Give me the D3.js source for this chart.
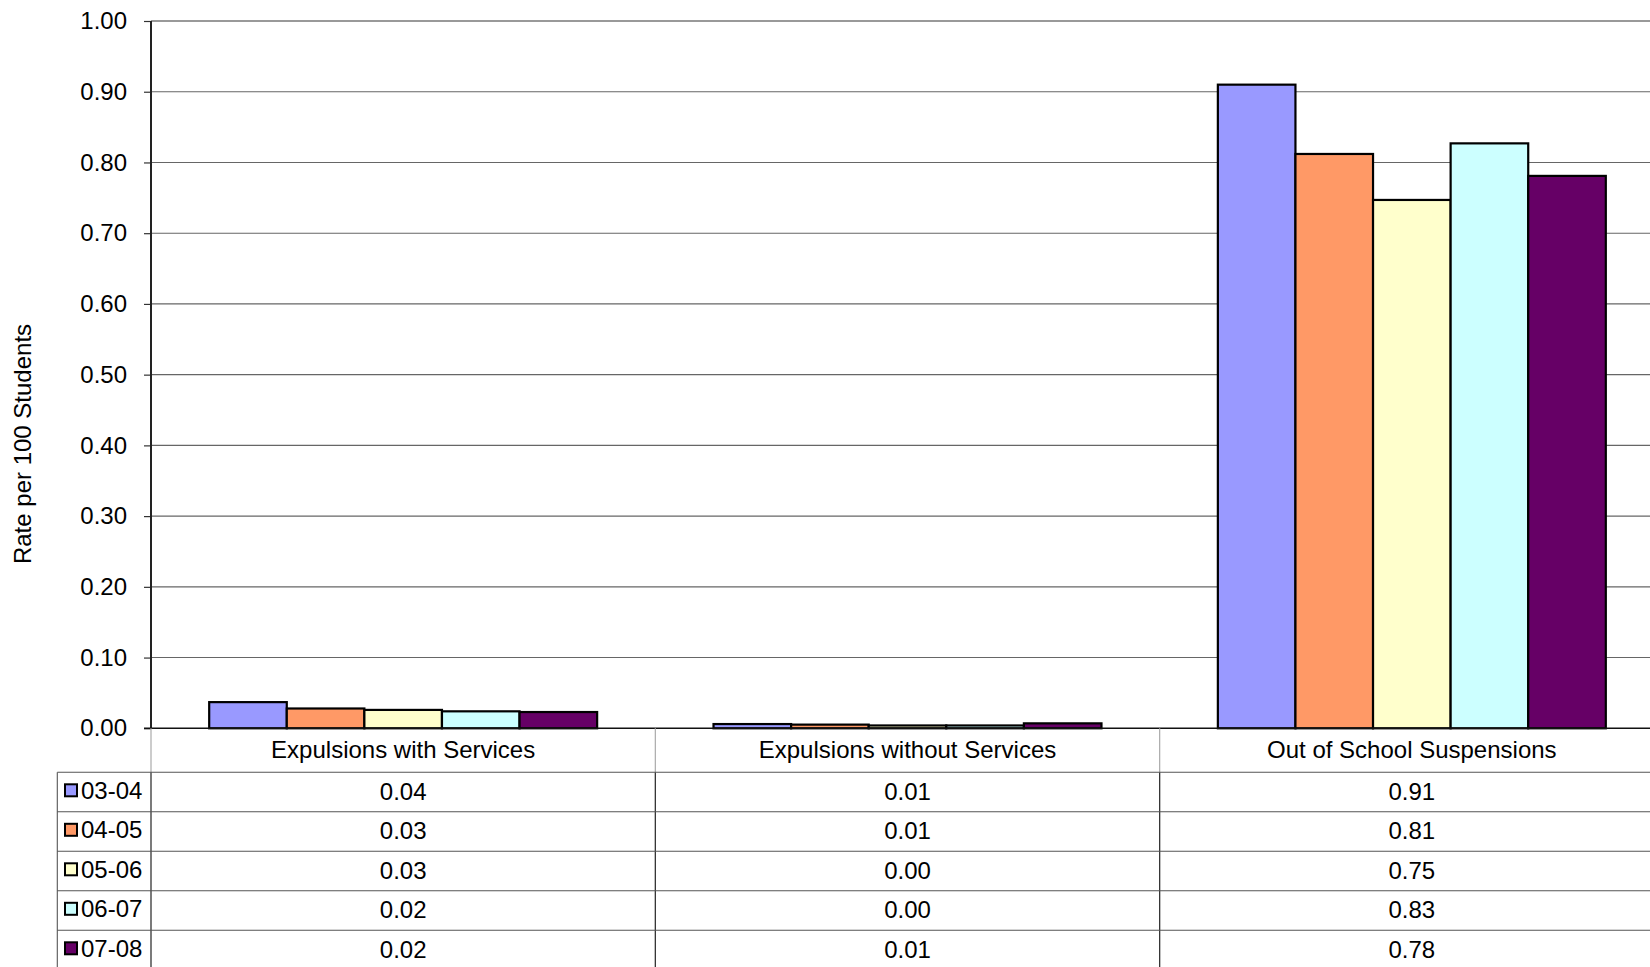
<!DOCTYPE html>
<html><head><meta charset="utf-8">
<script src="https://cdn.jsdelivr.net/npm/d3@7"></script>
<style>
body{margin:0;background:#fff;overflow:hidden}
svg{display:block}
text{font-family:"Liberation Sans",Arial,sans-serif;fill:#000}
</style>
</head><body>
<svg id="chart" width="1650" height="967"></svg>
<script>
// ---- data ----
const categories = ["Expulsions with Services", "Expulsions without Services", "Out of School Suspensions"];
const seriesNames = ["03-04", "04-05", "05-06", "06-07", "07-08"];
const seriesColors = ["#9999FF", "#FF9966", "#FFFFCC", "#CCFFFF", "#660066"];
const values0304 = [0.037, 0.006, 0.910];
const values0405 = [0.028, 0.0052, 0.812];
const values0506 = [0.026, 0.004, 0.747];
const values0607 = [0.024, 0.004, 0.827];
const values0708 = [0.023, 0.007, 0.781];
const yTicks = [0, 0.1, 0.2, 0.3, 0.4, 0.5, 0.6, 0.7, 0.8, 0.9, 1.0];
const yTitle = "Rate per 100 Students";

const seriesValues = [values0304, values0405, values0506, values0607, values0708];
const series = seriesNames.map((n, i) => ({name: n, color: seriesColors[i], values: seriesValues[i]}));

// ---- layout ----
const W = 1650, H = 967;
const plotL = 151, plotR = 1664, plotT = 21, plotB = 728.3;
const headerB = 772.3, rowH = 39.5, legendL = 57.3;
const fontSize = 24;
const fmt = d3.format(".2f");

const svg = d3.select("#chart");
svg.append("rect").attr("width", W).attr("height", H).attr("fill", "#fff");

const x0 = d3.scaleBand().domain(categories).range([plotL, plotR]).paddingInner(0).paddingOuter(0);
const x1 = d3.scaleBand().domain(seriesNames).range([0, x0.bandwidth()]).paddingInner(0).paddingOuter(0.75);
const y = d3.scaleLinear().domain([0, 1]).range([plotB, plotT]);

// gridlines
svg.append("g").selectAll("line").data(yTicks.filter(t => t > 0 && t < 1)).join("line")
  .attr("x1", plotL).attr("x2", W).attr("y1", d => y(d)).attr("y2", d => y(d))
  .attr("stroke", "#666").attr("stroke-width", 1.1);
// top border line
svg.append("line").attr("x1", plotL).attr("x2", W).attr("y1", y(1)).attr("y2", y(1))
  .attr("stroke", "#999").attr("stroke-width", 2);

// bars
const gBars = svg.append("g");
series.forEach(s => {
  gBars.append("g").selectAll("rect").data(categories.map((c, i) => ({c, v: s.values[i]}))).join("rect")
    .attr("x", d => x0(d.c) + x1(s.name))
    .attr("width", x1.bandwidth())
    .attr("y", d => y(d.v))
    .attr("height", d => y(0) - y(d.v))
    .attr("fill", s.color)
    .attr("stroke", "#000").attr("stroke-width", 2.2);
});

// y axis
const yAxis = d3.axisLeft(y).tickValues(yTicks).tickFormat(fmt).tickSize(7).tickPadding(17);
const gy = svg.append("g").attr("transform", `translate(${plotL},0)`).call(yAxis);
gy.select(".domain").remove();
gy.selectAll(".tick line").attr("stroke", "#333").attr("stroke-width", 1.2);
gy.selectAll(".tick text").style("font-size", fontSize + "px").attr("font-family", null).attr("fill", "#000");
svg.append("line").attr("x1", plotL).attr("x2", plotL).attr("y1", plotT).attr("y2", plotB)
  .attr("stroke", "#222").attr("stroke-width", 2);
// x axis line at zero
svg.append("line").attr("x1", plotL - 7).attr("x2", W).attr("y1", y(0)).attr("y2", y(0))
  .attr("stroke", "#111").attr("stroke-width", 1.6);

// y title
svg.append("text").attr("transform", `translate(31,444) rotate(-90)`)
  .attr("text-anchor", "middle").style("font-size", fontSize + "px").text(yTitle);

// ---- data table ----
const gT = svg.append("g");
const dividers = categories.map(c => x0(c));
gT.selectAll(".hdiv").data(dividers).join("line")
  .attr("x1", d => d).attr("x2", d => d).attr("y1", plotB).attr("y2", headerB)
  .attr("stroke", "#aaa").attr("stroke-width", 1.2);
gT.selectAll(".bdiv").data(dividers).join("line")
  .attr("x1", d => d).attr("x2", d => d).attr("y1", headerB).attr("y2", H)
  .attr("stroke", "#333").attr("stroke-width", 1.3);
gT.append("line").attr("x1", legendL).attr("x2", legendL).attr("y1", headerB).attr("y2", H)
  .attr("stroke", "#555").attr("stroke-width", 1.1);
gT.selectAll(".rline").data(seriesNames.map((n, i) => headerB + i * rowH)).join("line")
  .attr("x1", legendL).attr("x2", W).attr("y1", d => d).attr("y2", d => d)
  .attr("stroke", "#555").attr("stroke-width", 1.1);

// header labels
gT.selectAll(".hlab").data(categories).join("text")
  .attr("x", d => x0(d) + x0.bandwidth() / 2).attr("y", 757.7)
  .attr("text-anchor", "middle").style("font-size", fontSize + "px").text(d => d);

// rows
series.forEach((s, i) => {
  const top = headerB + i * rowH;
  gT.append("rect").attr("x", 65).attr("y", top + 12).attr("width", 12).attr("height", 12)
    .attr("fill", s.color).attr("stroke", "#000").attr("stroke-width", 2);
  gT.append("text").attr("x", 81).attr("y", top + 26.5)
    .style("font-size", fontSize + "px").text(s.name);
  gT.append("g").selectAll("text").data(categories.map((c, j) => ({c, v: s.values[j]}))).join("text")
    .attr("x", d => x0(d.c) + x0.bandwidth() / 2).attr("y", top + 27.5)
    .attr("text-anchor", "middle").style("font-size", fontSize + "px").text(d => fmt(d.v));
});
</script>
</body></html>
